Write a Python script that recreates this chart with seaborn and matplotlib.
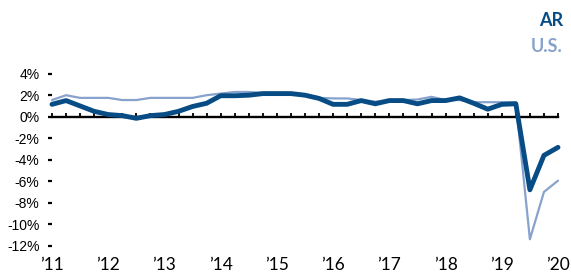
"""Employment growth, Arkansas vs U.S. (year over year, quarterly)."""
import matplotlib
matplotlib.use("Agg")
import matplotlib.pyplot as plt
import numpy as np
import pandas as pd
import seaborn as sns

# data (percent, quarterly)
year_labels = ["’11", "’12", "’13", "’14", "’15", "’16", "’17", "’18", "’19", "’20"]
ar_growth = [1.15, 1.5, 1.0, 0.5, 0.2, 0.1, -0.15, 0.1, 0.2, 0.5,
             0.95, 1.25, 1.95, 1.95, 2.0, 2.15, 2.15, 2.15, 2.0, 1.7,
             1.15, 1.15, 1.5, 1.2, 1.5, 1.5, 1.2, 1.5, 1.5, 1.75,
             1.25, 0.7, 1.15, 1.2, -6.8, -3.6, -2.85]
us_growth = [1.55, 2.0, 1.75, 1.75, 1.75, 1.55, 1.55, 1.75, 1.75, 1.75,
             1.75, 2.0, 2.15, 2.3, 2.3, 2.2, 2.2, 2.15, 2.0, 1.75,
             1.7, 1.7, 1.55, 1.4, 1.55, 1.55, 1.6, 1.85, 1.55, 1.55,
             1.35, 1.35, 1.35, 1.35, -11.4, -7.0, -5.95]
y_ticks = [4, 2, 0, -2, -4, -6, -8, -10, -12]

AR_COLOR = '#074C84'
US_COLOR = '#87A2CD'

quarters = np.arange(len(ar_growth))
df = pd.DataFrame({'quarter': quarters, 'AR': ar_growth, 'U.S.': us_growth})

sns.set_theme(style='white')
plt.rcParams['font.family'] = ['Liberation Sans', 'DejaVu Sans']

W, H = 571, 279
fig = plt.figure(figsize=(W / 100, H / 100), dpi=100)
ax = fig.add_axes([52 / W, 1 - 245.7 / H, (558 - 52) / W, (245.7 - 73.7) / H])

sns.lineplot(data=df, x='quarter', y='U.S.', color=US_COLOR, linewidth=1.6,
             ax=ax, clip_on=False)
sns.lineplot(data=df, x='quarter', y='AR', color=AR_COLOR, linewidth=3.5,
             ax=ax, clip_on=False)

ax.set_xlim(0, len(quarters) - 1)
ax.set_ylim(-12, 4)
ax.set_xlabel('')
ax.set_ylabel('')
for side in ['top', 'right', 'bottom', 'left']:
    ax.spines[side].set_visible(False)

ax.set_yticks(y_ticks)
ax.set_yticklabels([f'{v}%' for v in y_ticks])
ax.tick_params(axis='y', direction='out', length=3, width=1.6, color='black',
               pad=6, labelsize=10, labelcolor='black', left=True)

ax.set_xticks(quarters[::4])
ax.set_xticklabels(year_labels, fontfamily='Lato', fontsize=12.5)
ax.tick_params(axis='x', length=0, pad=8, labelcolor='black')

# zero line with quarterly tick marks
zero_axis = ax.secondary_xaxis(0, transform=ax.transData)
zero_axis.set_xticks(quarters)
zero_axis.tick_params(direction='in', length=3.2, width=1.3, color='black',
                      labelbottom=False)
zero_axis.spines['bottom'].set_linewidth(1.7)
zero_axis.spines['bottom'].set_color('black')

fig.text(563 / W, 1 - 21 / H, 'AR', ha='right', va='center', fontsize=13,
         fontweight='bold', color=AR_COLOR, fontfamily='Lato')
fig.text(563 / W, 1 - 46 / H, 'U.S.', ha='right', va='center', fontsize=13,
         fontweight='bold', color=US_COLOR, fontfamily='Lato')

fig.savefig('out.png', dpi=100)
plt.close(fig)
